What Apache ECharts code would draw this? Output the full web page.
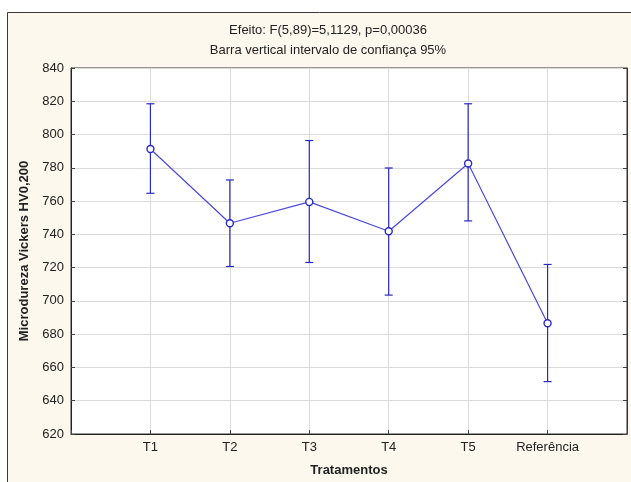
<!DOCTYPE html>
<html><head><meta charset="utf-8">
<script src="https://cdn.jsdelivr.net/npm/echarts@6/dist/echarts.min.js"></script>
<style>html,body{margin:0;padding:0;background:#fff}#c{width:631px;height:482px}</style>
</head><body><div id="c"></div>
<script>
const categories = ['T1', 'T2', 'T3', 'T4', 'T5', 'Referência'];
const means = [791.3, 746.7, 759.5, 741.9, 782.6, 686.6];
const upper = [818.5, 772.7, 796.4, 779.9, 818.5, 721.9];
const lower = [764.7, 720.7, 723.1, 703.5, 748.1, 651.5];
const yTicks = [620, 640, 660, 680, 700, 720, 740, 760, 780, 800, 820, 840];

const axisCats = [''].concat(categories, ['']);
const chart = echarts.init(document.getElementById('c'), null, {renderer: 'canvas'});
const font = 'Liberation Sans, Arial, sans-serif';
const barColor = '#2828c4';
const lineColor = '#4a4ae0';

chart.setOption({
  animation: false,
  backgroundColor: '#ffffff',
  textStyle: {fontFamily: font},
  graphic: {
    z: -10,
    elements: [{
      type: 'rect', z: -10, silent: true,
      shape: {x: 7.5, y: 12.5, width: 640, height: 480},
      style: {fill: '#fdf8ed', stroke: '#3a3a3a', lineWidth: 1}
    }]
  },
  title: {
    text: 'Efeito: F(5,89)=5,1129, p=0,00036\nBarra vertical intervalo de confiança 95%',
    left: 328, top: 20, textAlign: 'center', padding: 0,
    textStyle: {fontSize: 13, fontWeight: 'normal', color: '#222', lineHeight: 20, fontFamily: font}
  },
  grid: {
    left: 71, right: 4, top: 68, bottom: 48,
    show: true, backgroundColor: '#ffffff', borderColor: '#333', borderWidth: 1
  },
  xAxis: {
    type: 'category', data: axisCats, boundaryGap: false,
    name: 'Tratamentos', nameLocation: 'middle', nameGap: 30,
    nameTextStyle: {fontSize: 13, fontWeight: 'bold', color: '#222', fontFamily: font},
    axisLine: {lineStyle: {color: '#222', width: 1}},
    axisTick: {inside: true, length: 4, lineStyle: {color: '#444'}},
    axisLabel: {fontSize: 13, color: '#222', margin: 7, interval: 0, fontFamily: font},
    splitLine: {show: true, lineStyle: {color: '#dadada', width: 1}}
  },
  yAxis: [{
    type: 'value', min: 620, max: 840, interval: 20,
    name: 'Microdureza Vickers HV0,200', nameLocation: 'middle', nameGap: 40, nameRotate: 90,
    nameTextStyle: {fontSize: 13, fontWeight: 'bold', color: '#222', fontFamily: font},
    axisLine: {show: true, lineStyle: {color: '#222', width: 1}},
    axisTick: {show: true, inside: true, length: 4, lineStyle: {color: '#444'}},
    axisLabel: {fontSize: 13, color: '#222', margin: 7, fontFamily: font,
      formatter: v => yTicks.includes(v) ? String(v) : ''},
    splitLine: {show: true, lineStyle: {color: '#dadada', width: 1}}
  }, {
    type: 'value', min: 620, max: 840, interval: 20, position: 'right',
    axisLine: {show: true, lineStyle: {color: '#333'}},
    axisTick: {show: true, inside: true, length: 4, lineStyle: {color: '#444'}},
    axisLabel: {show: false}, splitLine: {show: false}
  }],
  series: [{
    type: 'custom',
    z: 3,
    data: categories.map((c, i) => [c, lower[i], upper[i]]),
    encode: {x: 0, y: [1, 2]},
    renderItem: function (params, api) {
      const x = api.value(0);
      const lo = api.coord([x, api.value(1)]);
      const hi = api.coord([x, api.value(2)]);
      const cap = 4;
      const st = {stroke: barColor, lineWidth: 1.2};
      return {type: 'group', children: [
        {type: 'line', shape: {x1: lo[0], y1: lo[1], x2: hi[0], y2: hi[1]}, style: st},
        {type: 'line', shape: {x1: lo[0] - cap, y1: lo[1], x2: lo[0] + cap, y2: lo[1]}, style: st},
        {type: 'line', shape: {x1: hi[0] - cap, y1: hi[1], x2: hi[0] + cap, y2: hi[1]}, style: st}
      ]};
    }
  }, {
    type: 'line', z: 4,
    data: categories.map((c, i) => [c, means[i]]),
    lineStyle: {color: lineColor, width: 1.2},
    symbol: 'circle', symbolSize: 7, showSymbol: true,
    itemStyle: {color: '#ffffff', borderColor: barColor, borderWidth: 1.4}
  }]
});
</script></body></html>
